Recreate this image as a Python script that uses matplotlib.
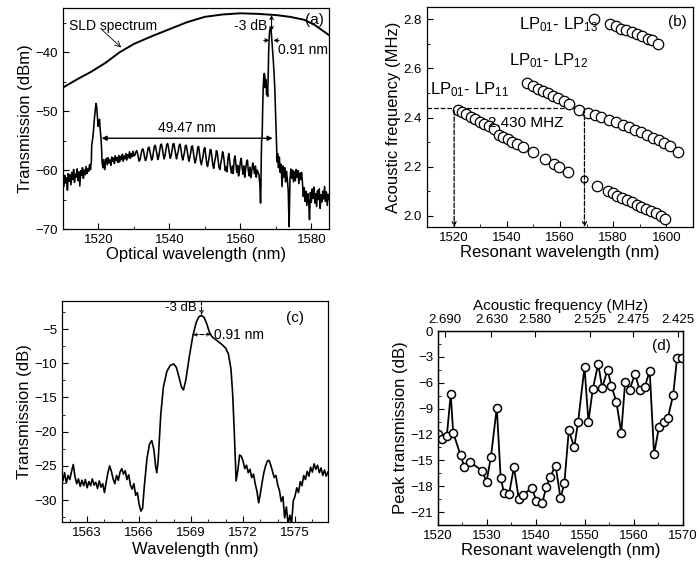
import numpy as np
import matplotlib
matplotlib.use("Agg")
import matplotlib.pyplot as plt
from matplotlib.ticker import MultipleLocator, FormatStrFormatter

# ---------------- data ----------------
# (a) SLD spectrum
sld_wl = [1510, 1514, 1518, 1522, 1526, 1530, 1535, 1540, 1545, 1550, 1555, 1560,
          1565, 1570, 1574, 1578, 1581, 1585]
sld_db = [-46.0, -44.6, -43.3, -41.8, -40.0, -38.6, -37.3, -36.1, -34.9, -34.0, -33.6,
          -33.4, -33.5, -33.7, -34.0, -34.5, -35.4, -37.1]

# (a) transmission spectrum, left noise 1510-1517.75 (0.25 nm steps)
a_left_db = [-61.0, -62.8, -60.9, -62.2, -61.3, -63.4, -60.6, -61.9, -60.8, -62.5, -60.4,
             -61.6, -59.9, -62.1, -60.7, -61.2, -59.8, -61.8, -60.3, -62.7, -60.1, -60.9,
             -59.6, -61.4, -60.0, -60.8, -59.4, -60.6, -59.8, -60.2, -59.1, -59.9]
# first resonance peak
a_pk1_wl = [1518.0, 1518.1, 1518.3, 1518.5, 1518.7, 1518.9, 1519.1, 1519.3, 1519.5, 1519.7,
            1519.9, 1520.1, 1520.3, 1520.5, 1520.7, 1520.9, 1521.0]
a_pk1_db = [-58.5, -55.8, -55.0, -54.0, -52.5, -51.0, -49.8, -48.7, -49.2, -50.8, -52.6,
            -51.8, -51.4, -53.2, -54.5, -56.5, -58.6]
# 1521.25-1530.0
a_mid1_db = [-59.6, -58.2, -59.9, -58.6, -58.0, -59.1, -57.9, -58.8, -58.3, -59.2, -57.8,
             -58.5, -58.0, -58.9, -57.6, -58.4, -57.9, -58.7, -57.5, -58.6, -57.7, -58.2,
             -57.3, -58.5, -57.6, -58.1, -57.2, -58.3, -57.4, -57.9, -56.9, -58.0, -57.2,
             -57.7, -56.8, -57.6]
# 1530.25-1565.0 (ripple)
a_mid2_db = [-57.5, -57.0, -56.7, -57.1, -57.9, -58.5, -58.1,
             -57.3, -56.6, -56.4, -56.9, -57.8, -58.4, -58.0,
             -57.1, -56.3, -56.1, -56.8, -57.6, -58.3, -57.9,
             -56.9, -56.0, -55.8, -56.5, -57.4, -58.2, -57.7,
             -56.7, -55.8, -55.6, -56.3, -57.3, -58.1, -57.6,
             -56.6, -55.7, -55.5, -56.2, -57.2, -58.0, -57.5,
             -56.7, -55.6, -55.5, -56.3, -57.2, -58.1, -57.4,
             -56.8, -55.8, -55.6, -56.4, -57.5, -58.3, -57.7,
             -57.0, -55.9, -55.8, -56.6, -57.7, -58.5, -57.9,
             -57.1, -56.0, -55.9, -57.0, -58.0, -58.8, -58.2,
             -57.3, -56.1, -56.0, -57.2, -58.4, -59.1, -58.3,
             -57.6, -56.4, -56.2, -57.5, -58.8, -59.4, -58.5,
             -57.7, -56.5, -56.6, -57.9, -59.2, -59.7, -58.6,
             -57.9, -56.7, -57.0, -58.4, -59.6, -59.9, -58.8,
             -58.0, -56.9, -57.5, -58.8, -60.1, -59.5, -60.3,
             -58.1, -57.2, -58.4, -59.7, -60.5, -59.3, -60.6,
             -58.3, -57.6, -59.0, -60.4, -59.2, -61.0, -60.1,
             -58.6, -58.0, -59.6, -60.7, -59.3, -61.2, -59.8,
             -58.7, -58.3, -60.1, -61.0, -59.5, -61.3, -60.0,
             -58.8, -59.5, -60.6, -59.3, -61.2, -60.0, -60.4]
# main resonance peak
a_pk2_wl = [1565.25, 1565.5, 1565.7, 1565.8, 1565.9, 1566.0, 1566.15, 1566.3, 1566.45, 1566.6,
            1566.75, 1566.9, 1567.0, 1567.1, 1567.25, 1567.4, 1567.55, 1567.7, 1567.85,
            1568.0, 1568.15, 1568.3, 1568.5, 1568.7, 1568.9, 1569.1, 1569.3, 1569.5,
            1569.7, 1569.9, 1570.1, 1570.25, 1570.4]
a_pk2_db = [-60.8, -62.5, -65.6, -63.0, -58.0, -55.0, -54.3, -49.5, -46.0, -44.2, -43.6,
            -44.0, -46.0, -44.5, -45.0, -47.2, -46.5, -47.5, -44.0, -39.5, -37.2, -36.3,
            -35.9, -36.4, -38.0, -39.8, -41.5, -43.5, -46.0, -49.5, -53.5, -56.5, -58.6]
# 1570.5-1585.0
a_right_db = [-57.2, -59.6, -57.8, -60.4, -59.0, -62.8, -59.3, -61.2, -59.6, -62.0, -60.2,
              -61.6, -63.5, -69.6, -61.5, -59.8, -61.4, -60.0, -62.0, -60.3, -61.8, -59.9,
              -61.2, -60.1, -62.3, -60.5, -61.6, -60.4, -62.0, -64.5, -63.0, -65.3, -63.6,
              -66.0, -64.0, -65.2, -68.4, -63.8, -65.5, -63.2, -64.8, -62.9, -65.6, -64.0,
              -66.2, -63.5, -65.0, -63.2, -66.5, -64.2, -65.4, -63.6, -64.9, -62.8, -65.3,
              -63.7, -66.0, -64.1, -65.0]

# (b) acoustic frequency vs resonant wavelength
lp11_wl = [1521.5, 1523.1, 1524.8, 1526.4, 1528.1, 1529.8, 1531.6, 1533.3, 1535.1, 1537.0,
           1538.7, 1540.4, 1542.1, 1543.9, 1546.1, 1550.0, 1554.4, 1557.8, 1559.8, 1563.1,
           1574.0, 1578.0, 1579.8, 1581.6, 1583.4, 1585.2, 1587.0, 1588.8, 1590.6,
           1592.4, 1594.2, 1596.0, 1597.8, 1599.6]
lp11_f = [2.432, 2.423, 2.413, 2.404, 2.394, 2.384, 2.375, 2.365, 2.353, 2.331, 2.322,
          2.312, 2.302, 2.292, 2.282, 2.262, 2.230, 2.210, 2.198, 2.180, 2.122, 2.100,
          2.092, 2.083, 2.074, 2.065, 2.056, 2.046, 2.037, 2.028, 2.019, 2.010, 2.000, 1.988]
lp11_mark_wl = [1569.2]
lp11_mark_f = [2.150]
lp12_wl = [1547.7, 1549.9, 1551.8, 1553.6, 1555.5, 1557.3, 1559.1, 1561.4, 1563.4, 1567.1,
           1570.6, 1573.2, 1575.6, 1578.3, 1581.0, 1583.5, 1585.8, 1588.2, 1590.4, 1592.6,
           1594.9, 1597.1, 1599.2, 1601.3, 1604.4]
lp12_f = [2.539, 2.528, 2.518, 2.509, 2.498, 2.487, 2.478, 2.467, 2.457, 2.430, 2.419,
          2.410, 2.401, 2.392, 2.381, 2.369, 2.360, 2.349, 2.340, 2.329, 2.318, 2.309,
          2.298, 2.286, 2.261]
lp13_wl = [1572.9, 1578.8, 1580.9, 1582.8, 1584.9, 1586.9, 1588.8, 1590.8, 1592.9, 1594.7,
           1596.8]
lp13_f = [2.800, 2.779, 2.771, 2.762, 2.755, 2.747, 2.739, 2.731, 2.721, 2.714, 2.701]

# (c) zoomed transmission, left noise 1561.5-1566.1 (0.1 nm steps)
c_left_db = [-26.3, -27.2, -26.0, -27.5, -26.4, -27.0, -25.8, -24.8, -26.6, -27.6, -26.9,
             -28.0, -27.1, -27.9, -27.0, -28.2, -27.3, -27.9, -26.9, -27.8, -27.4, -28.3,
             -27.2, -28.1, -27.6, -28.9, -27.4, -26.0, -25.0, -25.8, -26.9, -27.6, -26.4,
             -27.1, -25.9, -25.4, -26.2, -25.7, -27.0, -26.3, -27.8, -28.4, -27.6, -29.3,
             -28.9, -30.6, -31.6]
c_mid_wl = [1566.2, 1566.3, 1566.45, 1566.6, 1566.73, 1566.85, 1566.95, 1567.02, 1567.1,
            1567.25, 1567.4, 1567.6, 1567.8, 1568.0, 1568.15, 1568.3, 1568.45, 1568.56,
            1568.7, 1568.9, 1569.1, 1569.3, 1569.45, 1569.6, 1569.75, 1569.9, 1570.05,
            1570.2, 1570.4, 1570.6, 1570.8, 1571.0, 1571.15, 1571.3, 1571.4, 1571.5, 1571.6]
c_mid_db = [-31.2, -28.0, -24.0, -21.8, -21.3, -22.6, -25.0, -26.0, -24.2, -17.5, -13.5,
            -11.2, -10.3, -10.1, -10.6, -12.0, -13.5, -13.9, -12.4, -9.0, -6.0, -4.0, -3.2,
            -3.0, -3.3, -4.2, -5.4, -6.1, -6.5, -6.9, -7.3, -7.8, -8.6, -10.8, -14.5, -20.5,
            -27.2]
# 1571.7-1576.9 (0.1 nm steps)
c_right_db = [-25.6, -23.4, -23.6, -24.3, -25.4, -24.9, -26.0, -25.5, -26.7, -26.2, -27.6,
              -28.7, -30.4, -29.0, -27.4, -26.0, -25.0, -24.3, -24.2, -24.9, -25.8, -26.7,
              -26.4, -27.8, -28.6, -30.2, -29.5, -32.6, -31.0, -33.6, -32.2, -33.4, -30.1,
              -29.4, -28.2, -28.9, -27.3, -27.9, -26.4, -27.0, -25.8, -26.5, -25.2, -25.9,
              -24.7, -25.5, -24.9, -26.0, -25.3, -26.4, -25.6, -26.5, -25.9]

# (d) peak transmission vs resonant wavelength
d_wl = [1520.0, 1520.9, 1521.8, 1522.6, 1523.1, 1524.6, 1525.4, 1526.5, 1529.0, 1529.9,
        1530.8, 1532.0, 1532.8, 1533.5, 1534.5, 1535.5, 1536.5, 1537.4, 1539.1, 1540.1,
        1541.3, 1542.1, 1542.9, 1544.0, 1545.0, 1545.8, 1546.7, 1547.8, 1548.6, 1549.9,
        1550.7, 1551.6, 1552.7, 1553.5, 1554.6, 1555.4, 1556.4, 1557.4, 1558.2, 1559.1,
        1560.2, 1561.2, 1562.2, 1563.2, 1564.1, 1565.1, 1566.1, 1566.9, 1568.0, 1568.8,
        1569.8]
d_db = [-11.9, -12.5, -12.2, -7.3, -11.8, -14.4, -15.8, -15.2, -16.2, -17.5, -14.6, -8.9,
        -17.1, -18.8, -18.9, -15.8, -19.5, -19.0, -18.2, -19.7, -19.9, -18.1, -16.9, -15.6,
        -19.4, -17.6, -11.5, -13.5, -10.5, -4.2, -10.5, -6.7, -3.8, -6.6, -4.5, -6.4, -8.2,
        -11.8, -5.9, -6.8, -5.0, -6.9, -6.5, -4.6, -14.3, -11.1, -10.6, -10.1, -7.4, -3.1,
        -3.1]
d_top_pos = [1521.4, 1530.9, 1539.7, 1551.0, 1559.7, 1569.0]
d_top_labels = ['2.690', '2.630', '2.580', '2.525', '2.475', '2.425']

# ---------------- style ----------------
plt.rcParams['font.family'] = ['Liberation Sans', 'DejaVu Sans']
plt.rcParams['mathtext.default'] = 'regular'
plt.rcParams['xtick.direction'] = 'in'
plt.rcParams['ytick.direction'] = 'in'
plt.rcParams['xtick.major.size'] = 4
plt.rcParams['ytick.major.size'] = 4
plt.rcParams['xtick.minor.size'] = 2.5
plt.rcParams['ytick.minor.size'] = 2.5
plt.rcParams['xtick.labelsize'] = 9.5
plt.rcParams['ytick.labelsize'] = 9.5
plt.rcParams['axes.labelsize'] = 12
plt.rcParams['axes.linewidth'] = 0.9

fig = plt.figure(figsize=(6.99, 5.67), dpi=100)
ax_a = fig.add_axes([0.0901, 0.5961, 0.3806, 0.3898])
ax_b = fig.add_axes([0.6109, 0.5997, 0.3805, 0.3880])
ax_c = fig.add_axes([0.0887, 0.0794, 0.3805, 0.3897])
ax_d = fig.add_axes([0.6266, 0.0741, 0.3505, 0.3421])

arr = dict(arrowstyle='->', color='black', lw=0.8, shrinkA=0, shrinkB=0)

# ---- (a) ----
wl_left = np.linspace(1510.0, 1517.75, len(a_left_db))
wl_mid1 = np.linspace(1521.25, 1530.0, len(a_mid1_db))
wl_mid2 = np.linspace(1530.25, 1565.0, len(a_mid2_db))
wl_right = np.linspace(1570.5, 1585.0, len(a_right_db))
a_wl = np.concatenate([wl_left, a_pk1_wl, wl_mid1, wl_mid2, a_pk2_wl, wl_right])
a_db = np.concatenate([a_left_db, a_pk1_db, a_mid1_db, a_mid2_db, a_pk2_db, a_right_db])
ax_a.plot(a_wl, a_db, color='black', lw=1.15)
ax_a.plot(sld_wl, sld_db, color='black', lw=1.4)
ax_a.set_xlim(1510, 1585)
ax_a.set_ylim(-70, -32.5)
ax_a.xaxis.set_major_locator(MultipleLocator(20))
ax_a.xaxis.set_minor_locator(MultipleLocator(10))
ax_a.yaxis.set_major_locator(MultipleLocator(10))
ax_a.yaxis.set_minor_locator(MultipleLocator(5))
ax_a.set_xlabel('Optical wavelength (nm)', labelpad=1)
ax_a.set_ylabel('Transmission (dBm)', labelpad=2)
ax_a.text(1511.8, -35.6, 'SLD spectrum', fontsize=10, va='center')
ax_a.annotate('', xy=(1526.4, -39.2), xytext=(1521.0, -36.2), arrowprops=dict(arr, lw=0.6))
ax_a.text(1583.5, -34.6, '(a)', fontsize=11, ha='right', va='center')
ax_a.text(1567.6, -35.6, '-3 dB', fontsize=10, ha='right', va='center')
ax_a.annotate('', xy=(1568.8, -33.7), xytext=(1568.8, -36.4),
              arrowprops=dict(arrowstyle='<->', lw=0.8, shrinkA=0, shrinkB=0,
                              mutation_scale=6))
ax_a.annotate('', xy=(1568.2, -38.0), xytext=(1566.6, -38.0),
              arrowprops=dict(arr, mutation_scale=6))
ax_a.annotate('', xy=(1569.3, -38.0), xytext=(1570.9, -38.0),
              arrowprops=dict(arr, mutation_scale=6))
ax_a.text(1570.5, -39.7, '0.91 nm', fontsize=10, ha='left', va='center')
ax_a.annotate('', xy=(1569.1, -54.6), xytext=(1520.9, -54.6),
              arrowprops=dict(arrowstyle='<|-|>', color='black', lw=1.0, shrinkA=0,
                              shrinkB=0, mutation_scale=7))
ax_a.text(1544.9, -52.9, '49.47 nm', fontsize=10, ha='center', va='center')

# ---- (b) ----
mk = dict(ls='none', marker='o', mfc='white', mec='black', mew=0.9, ms=7.5)
ax_b.plot([1510, 1569.2], [2.437, 2.437], ls='--', color='black', lw=0.9)
ax_b.annotate('', xy=(1520.2, 1.955), xytext=(1520.2, 2.43),
              arrowprops=dict(arrowstyle='->', ls='--', lw=0.9, shrinkA=0, shrinkB=0,
                              mutation_scale=7))
ax_b.annotate('', xy=(1569.2, 1.955), xytext=(1569.2, 2.437),
              arrowprops=dict(arrowstyle='->', ls='--', lw=0.9, shrinkA=0, shrinkB=0,
                              mutation_scale=7))
ax_b.plot(lp11_wl, lp11_f, **mk)
ax_b.plot(lp11_mark_wl, lp11_mark_f, ls='none', marker='o', mfc='none', mec='black',
          mew=0.9, ms=5)
ax_b.plot(lp12_wl, lp12_f, **mk)
ax_b.plot(lp13_wl, lp13_f, **mk)
ax_b.set_xlim(1510, 1610)
ax_b.set_ylim(1.955, 2.85)
ax_b.xaxis.set_major_locator(MultipleLocator(20))
ax_b.xaxis.set_minor_locator(MultipleLocator(10))
ax_b.yaxis.set_major_locator(MultipleLocator(0.2))
ax_b.yaxis.set_minor_locator(MultipleLocator(0.1))
ax_b.yaxis.set_major_formatter(FormatStrFormatter('%.1f'))
ax_b.set_xlabel('Resonant wavelength (nm)', labelpad=1)
ax_b.set_ylabel('Acoustic frequency (MHz)', labelpad=2)
ax_b.text(1544.6, 2.78, r'LP$_{01}$- LP$_{13}$', fontsize=12, va='center')
ax_b.text(1540.7, 2.63, r'LP$_{01}$- LP$_{12}$', fontsize=12, va='center')
ax_b.text(1511.2, 2.515, r'LP$_{01}$- LP$_{11}$', fontsize=12, va='center')
ax_b.text(1547.1, 2.376, '2.430 MHZ', fontsize=11, ha='center', va='center')
ax_b.text(1607.5, 2.79, '(b)', fontsize=11, ha='right', va='center')

# ---- (c) ----
c_wl = np.concatenate([np.linspace(1561.5, 1566.1, len(c_left_db)), c_mid_wl,
                       np.linspace(1571.7, 1576.9, len(c_right_db))])
c_db = np.concatenate([c_left_db, c_mid_db, c_right_db])
ax_c.plot(c_wl, c_db, color='black', lw=1.2)
ax_c.set_xlim(1561.55, 1576.9)
ax_c.set_ylim(-33.2, -0.9)
ax_c.xaxis.set_major_locator(MultipleLocator(3))
ax_c.xaxis.set_minor_locator(MultipleLocator(1))
ax_c.yaxis.set_major_locator(MultipleLocator(5))
ax_c.yaxis.set_minor_locator(MultipleLocator(2.5))
ax_c.set_xlabel('Wavelength (nm)', labelpad=2)
ax_c.set_ylabel('Transmission (dB)', labelpad=2)
ax_c.annotate('', xy=(1569.6, -2.95), xytext=(1569.6, -0.9),
              arrowprops=dict(arrowstyle='->', ls='--', lw=0.8, shrinkA=0, shrinkB=0,
                              mutation_scale=6))
ax_c.annotate('', xy=(1569.1, -5.8), xytext=(1570.15, -5.8),
              arrowprops=dict(arrowstyle='<->', ls='--', lw=0.8, shrinkA=0, shrinkB=0,
                              mutation_scale=5))
ax_c.text(1569.35, -1.95, '-3 dB', fontsize=9.5, ha='right', va='center')
ax_c.text(1570.3, -5.8, '0.91 nm', fontsize=10, ha='left', va='center')
ax_c.text(1575.0, -3.4, '(c)', fontsize=11, ha='center', va='center')

# ---- (d) ----
ax_d.plot(d_wl, d_db, color='black', lw=1.3, marker='o', mfc='white', mec='black',
          mew=1.1, ms=5.8)
ax_d.set_xlim(1520, 1570)
ax_d.set_ylim(-22.5, 0)
ax_d.xaxis.set_major_locator(MultipleLocator(10))
ax_d.xaxis.set_minor_locator(MultipleLocator(5))
ax_d.yaxis.set_major_locator(MultipleLocator(3))
ax_d.yaxis.set_minor_locator(MultipleLocator(1.5))
ax_d.set_xlabel('Resonant wavelength (nm)', labelpad=1)
ax_d.set_ylabel('Peak transmission (dB)', labelpad=2)
ax_d.text(1565.6, -1.7, '(d)', fontsize=11, ha='center', va='center')
ax_t = ax_d.twiny()
ax_t.set_xlim(ax_d.get_xlim())
ax_t.set_xticks(d_top_pos)
ax_t.set_xticklabels(d_top_labels)
ax_t.set_xlabel('Acoustic frequency (MHz)', fontsize=11, labelpad=3)

fig.savefig('out.png', dpi=100)
